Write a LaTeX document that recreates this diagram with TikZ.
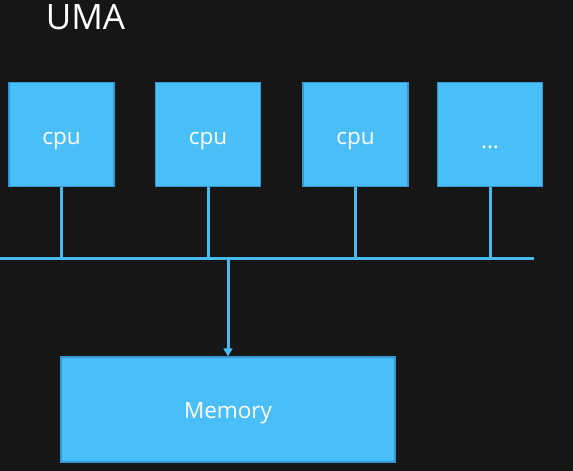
\documentclass[tikz,border=0pt]{standalone}
\usepackage{fontspec}
\setmainfont{Open Sans}
\usetikzlibrary{arrows.meta}
\definecolor{bg}{RGB}{22,22,22}
\definecolor{boxfill}{RGB}{74,190,246}
\definecolor{boxline}{RGB}{52,150,210}
\definecolor{wire}{RGB}{72,186,240}
\newcommand{\lowered}[2]{\raisebox{-#1}[0.55em][0.15em]{#2}}
\tikzset{
  unit/.style={draw=boxline, line width=1.2pt, fill=boxfill, text=white, inner sep=0pt,
    minimum width=105pt, minimum height=104pt, font=\fontsize{22.5}{27}\selectfont},
  wireline/.style={draw=wire, line width=3pt},
  arrowline/.style={draw=wire, line width=3pt, -{Triangle[length=8pt,width=9pt]}}
}
\begin{document}
\begin{tikzpicture}[x=1pt,y=-1pt]
\fill[bg] (0,0) rectangle (573,471);
\useasboundingbox (0,0) rectangle (573,471);
\node[text=white, font=\fontsize{35}{40}\selectfont, anchor=base] (title) at (85.5,29) {UMA};
\node[unit] (c1) at (61.5,134.5) {\lowered{5pt}{cpu}};
\node[unit] (c2) at (208,134.5) {\lowered{5pt}{cpu}};
\node[unit] (c3) at (355.5,134.5) {\lowered{5pt}{cpu}};
\node[unit] (c4) at (490,134.5) {\lowered{9pt}{...}};
\node[unit, minimum width=334pt, minimum height=105pt] (mem) at (228,409.5) {\lowered{4pt}{Memory}};
\coordinate (busL) at (0,258);
\coordinate (busR) at (534,258);
\draw[wireline] (busL) -- (busR);
\foreach \c in {c1,c2,c3,c4}{
  \draw[wireline] (\c.south) -- (\c.south |- busL);
}
\coordinate (tap) at (mem.north |- busL);
\draw[arrowline] (tap) -- (mem.north);
\end{tikzpicture}
\end{document}
